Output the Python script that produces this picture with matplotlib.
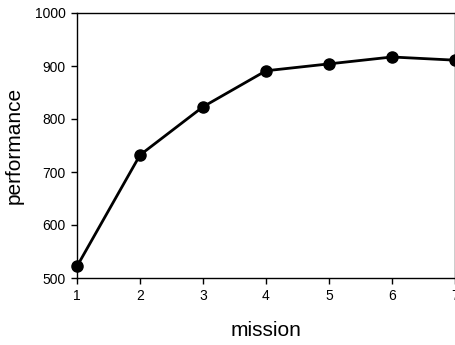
import matplotlib
matplotlib.use("Agg")
import matplotlib.pyplot as plt

plt.rcParams["font.family"] = ["Liberation Sans", "DejaVu Sans"]

mission = [1, 2, 3, 4, 5, 6, 7]
performance = [522, 732, 823, 891, 904, 917, 911]

fig = plt.figure(figsize=(4.56, 3.45), dpi=100)
ax = fig.add_axes([77 / 456, 1 - 278 / 345, (455 - 77) / 456, (278 - 13) / 345])
ax.plot(mission, performance, color="black", linewidth=2.0, marker="o",
        markersize=8, clip_on=False)
ax.set_xlim(1, 7)
ax.set_ylim(500, 1000)
ax.set_xticks(mission)
ax.set_yticks([500, 600, 700, 800, 900, 1000])
ax.tick_params(direction="out", length=4, width=1, labelsize=10, pad=4)
for s in ax.spines.values():
    s.set_linewidth(1)
ax.set_xlabel("mission", fontsize=15, labelpad=13)
ax.set_ylabel("performance", fontsize=15, labelpad=8)
fig.savefig("out.png", dpi=100)
